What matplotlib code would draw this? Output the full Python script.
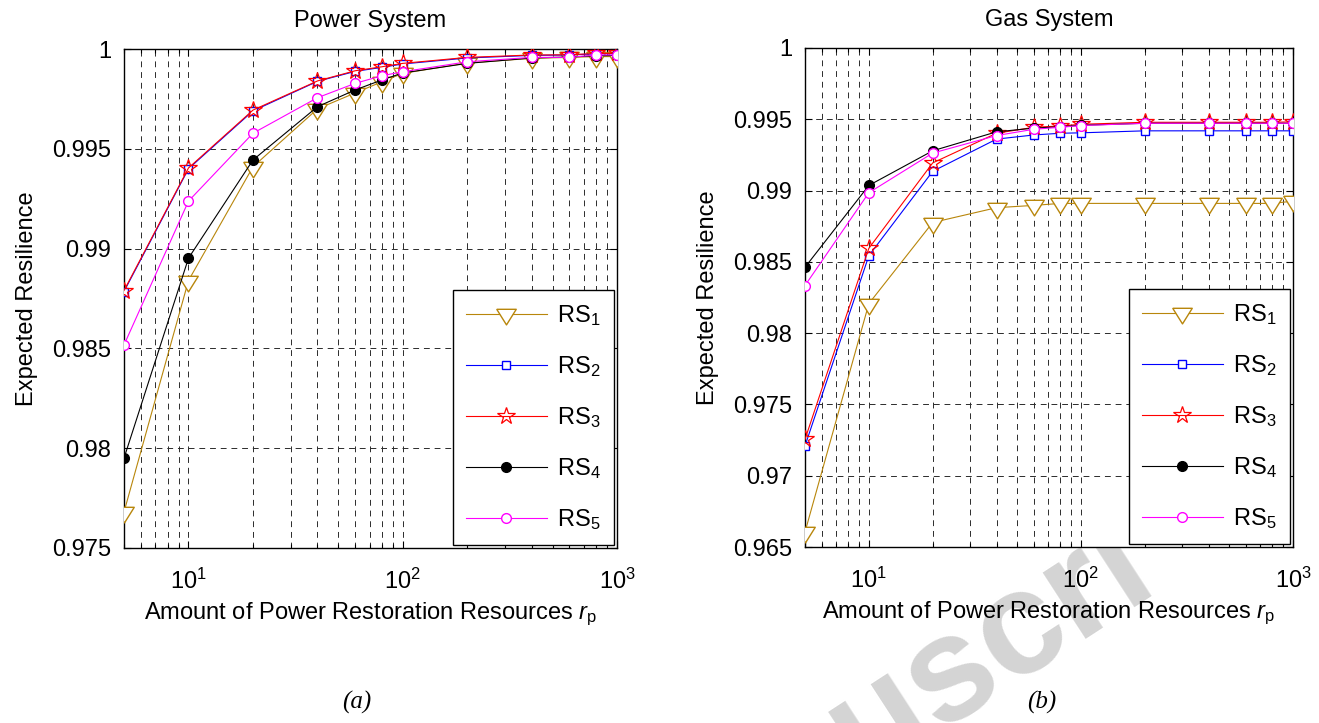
import matplotlib
matplotlib.use('Agg')
import matplotlib.pyplot as plt
import matplotlib as mpl
from matplotlib.ticker import FixedLocator, LogLocator, NullFormatter

# Font setup (Helvetica-like look)
mpl.rcParams['font.family'] = ['Liberation Sans', 'DejaVu Sans']
mpl.rcParams['mathtext.fontset'] = 'custom'
mpl.rcParams['mathtext.rm'] = 'Liberation Sans'
mpl.rcParams['mathtext.it'] = 'Liberation Sans:italic'
mpl.rcParams['mathtext.bf'] = 'Liberation Sans:bold'
mpl.rcParams['font.size'] = 17

# Amount of restoration resources
x_rp = [5, 10, 20, 40, 60, 80, 100, 200, 400, 600, 800, 1000]

# Power system expected resilience
power_rs1 = [0.9768, 0.9884, 0.9941, 0.9970, 0.9978, 0.99836, 0.99878, 0.9993, 0.99953, 0.99958, 0.99962, 0.99962]
power_rs2 = [0.98785, 0.9940, 0.99690, 0.99838, 0.99888, 0.99908, 0.99925, 0.99955, 0.99968, 0.99970, 0.99976, 0.99977]
power_rs3 = [0.9879, 0.99404, 0.99694, 0.9984, 0.99891, 0.99911, 0.99928, 0.99958, 0.9997, 0.99971, 0.99978, 0.99978]
power_rs4 = [0.9795, 0.98952, 0.99444, 0.99711, 0.99795, 0.99845, 0.9988, 0.99928, 0.99955, 0.99960, 0.99966, 0.99968]
power_rs5 = [0.98517, 0.99238, 0.99578, 0.99756, 0.99828, 0.99866, 0.99886, 0.99936, 0.99958, 0.99958, 0.9997, 0.9997]

# Gas system expected resilience
gas_rs1 = [0.96605, 0.98207, 0.98776, 0.9888, 0.98896, 0.9891, 0.9891, 0.9891, 0.9891, 0.9891, 0.9891, 0.98926]
gas_rs2 = [0.97209, 0.98543, 0.99135, 0.99361, 0.9939, 0.99402, 0.99405, 0.99419, 0.99419, 0.99419, 0.99419, 0.99419]
gas_rs3 = [0.97255, 0.98595, 0.99194, 0.99402, 0.99444, 0.99453, 0.99465, 0.99479, 0.99479, 0.99479, 0.99479, 0.99482]
gas_rs4 = [0.98462, 0.99036, 0.99279, 0.99412, 0.99438, 0.99448, 0.99458, 0.99472, 0.99472, 0.99472, 0.99472, 0.99472]
gas_rs5 = [0.98334, 0.98985, 0.99263, 0.99386, 0.9943, 0.99444, 0.99456, 0.99472, 0.99472, 0.99472, 0.99472, 0.99472]

labels = ['RS$_1$', 'RS$_2$', 'RS$_3$', 'RS$_4$', 'RS$_5$']
power_ticks = [0.975, 0.98, 0.985, 0.99, 0.995, 1.0]
gas_ticks = [0.965, 0.97, 0.975, 0.98, 0.985, 0.99, 0.995, 1.0]

# matlab-style down triangle, centred on its centroid
tri_down = [(-10, 5.33), (10, 5.33), (0, -10.67), (-10, 5.33)]

# Line styles for each scheme
styles = [
    dict(color='#b8860b', marker=tri_down, ms=15, mfc='white', mew=1.0),
    dict(color='#0000ff', marker='s', ms=6, mfc='white', mew=1.0),
    dict(color='#ff0000', marker='*', ms=13, mfc='none', mew=0.9),
    dict(color='black', marker='o', ms=7, mfc='black', mew=1.0),
    dict(color='#ff00ff', marker='o', ms=7, mfc='white', mew=1.0),
]

fig = plt.figure(figsize=(13.19, 7.23), dpi=100)
fig.patch.set_facecolor('white')

# Faint watermark behind the axes (only part of it shows in the original)
fig.text(862 / 1319, 1 - 778 / 723, 'uscri', fontsize=107, fontweight='bold',
         color='#d4d4d4', rotation=33, rotation_mode='anchor', ha='left', va='baseline', zorder=-5)

ax1 = fig.add_axes([124 / 1319, 1 - 548 / 723, 493 / 1319, 499 / 723])
ax2 = fig.add_axes([805 / 1319, 1 - 547 / 723, 488 / 1319, 499 / 723])


def draw_panel(ax, series, yticks, title):
    ax.set_facecolor('white')
    handles = []
    for s, lab, st in zip(series, labels, styles):
        h, = ax.plot(x_rp, s, lw=0.8, label=lab, zorder=3, **st)
        handles.append(h)
    ax.set_xscale('log')
    ax.set_xlim(5, 1000)
    ax.set_ylim(yticks[0], yticks[-1])
    ax.yaxis.set_major_locator(FixedLocator(yticks))
    ax.set_yticklabels(['%g' % t for t in yticks])
    ax.xaxis.set_major_locator(LogLocator(base=10, numticks=10))
    ax.xaxis.set_minor_locator(LogLocator(base=10, subs=range(2, 10), numticks=20))
    ax.xaxis.set_minor_formatter(NullFormatter())

    # dashed grid like matlab
    grid_kw = dict(color='#2b2b2b', linestyle=(0, (6, 5)), linewidth=0.7)
    ax.grid(True, which='major', axis='both', **grid_kw)
    ax.grid(True, which='minor', axis='x', **grid_kw)
    ax.set_axisbelow(True)

    ax.tick_params(which='both', direction='in', top=True, right=True, width=0.8)
    ax.tick_params(which='major', length=5)
    ax.tick_params(axis='y', pad=9)
    ax.tick_params(axis='x', which='major', pad=15)
    ax.tick_params(which='minor', length=3)
    for sp in ax.spines.values():
        sp.set_linewidth(1.0)

    ax.set_title(title, fontsize=17, pad=16)
    ax.set_xlabel('Amount of Power Restoration Resources $r_\\mathrm{p}$', labelpad=5)
    ax.set_ylabel('Expected Resilience', labelpad=10)

    leg = ax.legend(handles=handles, loc='lower right', borderaxespad=0.12, fancybox=False,
                    framealpha=1, edgecolor='black', handlelength=3.4, handletextpad=0.45,
                    labelspacing=1.1, borderpad=0.56, fontsize=17)
    leg.get_frame().set_linewidth(1.0)
    leg.set_zorder(5)


draw_panel(ax1, [power_rs1, power_rs2, power_rs3, power_rs4, power_rs5], power_ticks, 'Power System')
draw_panel(ax2, [gas_rs1, gas_rs2, gas_rs3, gas_rs4, gas_rs5], gas_ticks, 'Gas System')

# Sub-figure captions
fig.text(357 / 1319, 1 - 702 / 723, '(a)', fontsize=18, family='Liberation Serif', style='italic',
         ha='center', va='center')
fig.text(1042 / 1319, 1 - 702 / 723, '(b)', fontsize=18, family='Liberation Serif', style='italic',
         ha='center', va='center')

fig.savefig('out.png', dpi=100)
plt.close()
